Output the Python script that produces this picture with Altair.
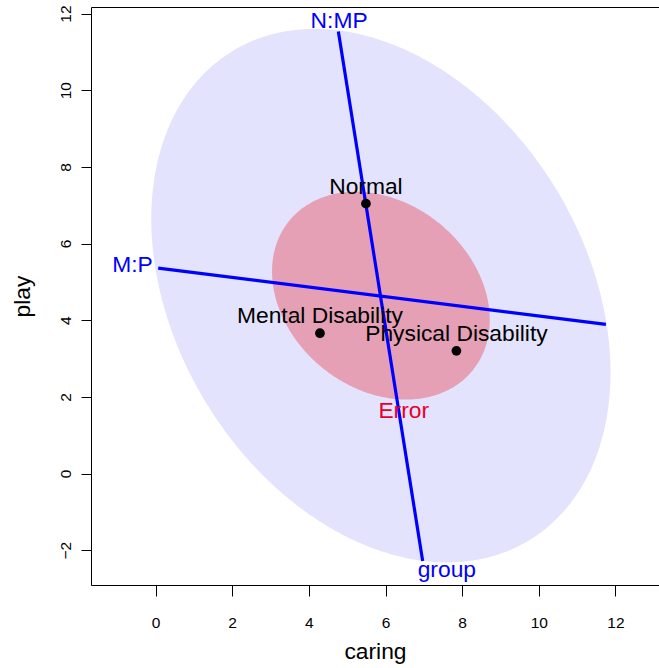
import altair as alt
import numpy as np
import pandas as pd

# ---- data ----
group_names = ["Normal", "Mental Disability", "Physical Disability"]
group_caring = [5.49, 4.29, 7.85]
group_play = [7.04, 3.66, 3.20]

# ellipses: centre, sd along x, sd along y, covariance (as drawn)
ell_names = ["group", "Error"]
ell_cx = [5.88, 5.88]
ell_cy = [4.64, 4.64]
ell_sx = [5.99, 2.84]
ell_sy = [6.96, 2.71]
ell_cxy = [-12.0, -1.79]
ell_fill = ["#E3E3FD", "#E6A0B6"]

# 1-df contrast lines: endpoints
line_names = ["N:MP", "M:P"]
line_x1 = [4.77, 0.07]
line_y1 = [11.53, 5.36]
line_x2 = [6.97, 11.75]
line_y2 = [-2.28, 3.89]

# term labels (data coordinates of text baseline anchor)
lab_text = ["N:MP", "group", "M:P", "Error"]
lab_x = [4.79, 7.60, -0.07, 6.475]
lab_y = [11.615, -2.70, 5.265, 1.44]
lab_align = ["center", "center", "right", "center"]
lab_color = ["#0000FF", "#0000FF", "#0000FF", "#E6002A"]

x_ticks = [0, 2, 4, 6, 8, 10, 12]
y_ticks = [-2, 0, 2, 4, 6, 8, 10, 12]
x_dom = [-1.683, 13.135]
y_dom = [-2.909, 12.171]

FONT = "Liberation Sans"
FS = 22.8
W, H = 568, 578

xs = alt.Scale(domain=x_dom, nice=False, zero=False)
ys = alt.Scale(domain=y_dom, nice=False, zero=False)

x_axis = alt.Axis(values=x_ticks, title="caring", grid=False, domain=False,
                  tickSize=11, tickColor="#000", labelFontSize=15.5, labelFont=FONT,
                  labelColor="#000", labelBaseline="alphabetic", labelPadding=31,
                  titleFont=FONT, titleFontSize=FS, titleFontWeight="normal",
                  titleColor="#000", titleBaseline="alphabetic", titleY=73)
y_axis = alt.Axis(values=y_ticks, title="play", grid=False, domain=False,
                  tickSize=10, tickColor="#000", labelFontSize=15.5, labelFont=FONT,
                  labelColor="#000", labelAngle=-90, labelAlign="center",
                  labelBaseline="alphabetic", labelPadding=11,
                  titleFont=FONT, titleFontSize=FS, titleFontWeight="normal",
                  titleColor="#000", titleAngle=-90, titleAlign="center",
                  titleBaseline="middle", titleX=-69, titleY=H / 2)


def ellipse_df(i):
    t = np.linspace(0, np.pi, 241)
    a = ell_sx[i]
    slope = ell_cxy[i] / a
    h = np.sqrt(ell_sy[i] ** 2 - (ell_cxy[i] / a) ** 2)
    x = ell_cx[i] + a * np.cos(t)
    ym = ell_cy[i] + slope * np.cos(t)
    return pd.DataFrame({"x": x, "ylo": ym - h * np.sin(t), "yhi": ym + h * np.sin(t)})


layers = []
for i in range(len(ell_names)):
    layers.append(
        alt.Chart(ellipse_df(i)).mark_area(color=ell_fill[i], opacity=1, orient="vertical").encode(
            x=alt.X("x:Q", scale=xs, axis=x_axis, sort=None),
            y=alt.Y("ylo:Q", scale=ys, axis=y_axis),
            y2="yhi:Q",
        )
    )

lines_df = pd.DataFrame({"name": line_names, "x1": line_x1, "y1": line_y1,
                         "x2": line_x2, "y2": line_y2})
layers.append(
    alt.Chart(lines_df).mark_rule(color="#0000FF", strokeWidth=3.2).encode(
        x=alt.X("x1:Q", scale=xs), y=alt.Y("y1:Q", scale=ys), x2="x2:Q", y2="y2:Q"
    )
)

pts = pd.DataFrame({"name": group_names, "caring": group_caring, "play": group_play})
layers.append(
    alt.Chart(pts).mark_point(filled=True, color="#000", size=95, opacity=1, shape="circle").encode(
        x=alt.X("caring:Q", scale=xs), y=alt.Y("play:Q", scale=ys)
    )
)
layers.append(
    alt.Chart(pts).mark_text(font=FONT, fontSize=FS, color="#000", align="center",
                             baseline="alphabetic", dy=-10).encode(
        x=alt.X("caring:Q", scale=xs), y=alt.Y("play:Q", scale=ys), text="name:N"
    )
)

labs = pd.DataFrame({"text": lab_text, "x": lab_x, "y": lab_y,
                     "align": lab_align, "color": lab_color})
for al in ["center", "right"]:
    sub = labs[labs["align"] == al]
    layers.append(
        alt.Chart(sub).mark_text(font=FONT, fontSize=FS, align=al, baseline="alphabetic").encode(
            x=alt.X("x:Q", scale=xs), y=alt.Y("y:Q", scale=ys), text="text:N",
            color=alt.Color("color:N", scale=None)
        )
    )

chart = alt.layer(*layers).properties(
    width=W, height=H,
    autosize=alt.AutoSizeParams(type="none"),
    padding={"left": 91, "top": 7, "right": 0, "bottom": 83},
    background="white",
).configure_view(stroke="#000", strokeWidth=1)

chart.save("out.html", embed_options={"renderer": "svg", "actions": False})
